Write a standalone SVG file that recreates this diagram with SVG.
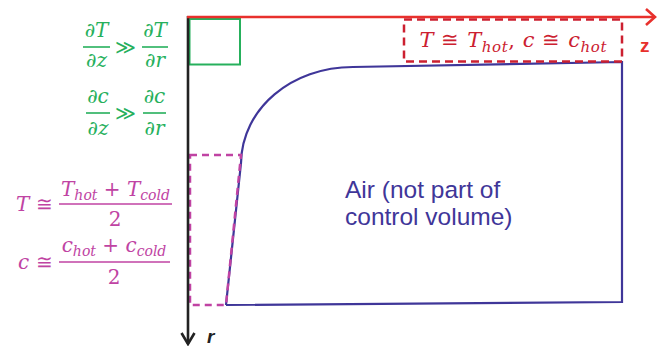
<svg xmlns="http://www.w3.org/2000/svg" width="657" height="346" viewBox="0 0 657 346">
<style>
.m{font-family:"DejaVu Serif","Liberation Serif",serif;font-style:italic;font-size:20px}
.s{font-size:14px}
.up{font-style:normal}
.g{fill:#26b05c}
.gs{stroke:#26b05c;stroke-width:1.6;fill:none}
.p{fill:#c043a3}
.ps{stroke:#c043a3;stroke-width:1.4;fill:none}
.rd{fill:#cc2030;font-size:21px}
.rd .s{font-size:15px}
.blue{fill:#3f3699;font-family:"Liberation Sans",Arial,sans-serif;font-size:24.5px}
</style>
<rect width="657" height="346" fill="#fff"/>
<g id="control-volume">
<path d="M226,305 L241,163 C242,108 292,67 353,67 L622,62 L622,302 L226,305" fill="none" stroke="#3f3699" stroke-width="2.2"/>
</g>
<g id="green-box"><rect x="189.5" y="19" width="50.5" height="45.5" fill="none" stroke="#26b05c" stroke-width="2"/></g>
<g id="red-box"><rect x="404" y="19.5" width="218" height="42" fill="none" stroke="#cc2030" stroke-width="2.5" stroke-dasharray="8,5"/></g>
<g id="magenta-box"><path d="M190,155 L241,155 L226,305 L190,305 Z" fill="none" stroke="#c043a3" stroke-width="2.5" stroke-dasharray="7,5"/></g>
<g id="axes">
<line x1="188" y1="16" x2="188" y2="344" stroke="#222" stroke-width="2.6"/>
<polyline points="181.5,333 188,344 194.5,333" fill="none" stroke="#222" stroke-width="2.6"/>
<line x1="187" y1="17" x2="654" y2="17" stroke="#e8302c" stroke-width="2.6"/>
<polyline points="646,9 655,17 646,25" fill="none" stroke="#e8302c" stroke-width="2.6"/>
<text x="640" y="52" font-family="Liberation Sans,Arial,sans-serif" font-weight="bold" font-size="19" fill="#e8302c">z</text>
<text x="207" y="343" font-family="Liberation Sans,Arial,sans-serif" font-weight="bold" font-style="italic" font-size="19" fill="#222">r</text>
</g>
<g id="air-label">
<text class="blue" x="345" y="198">Air (not part of</text>
<text class="blue" x="345" y="225">control volume)</text>
</g>
<g id="green-eq" class="m g">
<text x="96.5" y="37" text-anchor="middle">∂T</text>
<line class="gs" x1="83" y1="47" x2="110" y2="47"/>
<text x="96.5" y="67" text-anchor="middle">∂z</text>
<text x="125" y="54" text-anchor="middle" class="up">≫</text>
<text x="155" y="37" text-anchor="middle">∂T</text>
<line class="gs" x1="142" y1="47" x2="168" y2="47"/>
<text x="155" y="67" text-anchor="middle">∂r</text>
<text x="98" y="103" text-anchor="middle">∂c</text>
<line class="gs" x1="86" y1="113" x2="110" y2="113"/>
<text x="98" y="135" text-anchor="middle">∂z</text>
<text x="125" y="120" text-anchor="middle" class="up">≫</text>
<text x="154.5" y="103" text-anchor="middle">∂c</text>
<line class="gs" x1="143" y1="113" x2="166" y2="113"/>
<text x="154.5" y="135" text-anchor="middle">∂r</text>
</g>
<g id="magenta-eq" class="m p">
<text x="16" y="211">T</text>
<text x="44.5" y="211" text-anchor="middle" class="up">≅</text>
<text x="115.5" y="196" text-anchor="middle">T<tspan class="s" dy="4">hot</tspan><tspan dy="-4" class="up"> + </tspan>T<tspan class="s" dy="4">cold</tspan></text>
<line class="ps" x1="59" y1="204" x2="172" y2="204"/>
<text x="115" y="226" text-anchor="middle" class="up">2</text>
<text x="18" y="269">c</text>
<text x="44.5" y="269" text-anchor="middle" class="up">≅</text>
<text x="114" y="252" text-anchor="middle">c<tspan class="s" dy="4">hot</tspan><tspan dy="-4" class="up"> + </tspan>c<tspan class="s" dy="4">cold</tspan></text>
<line class="ps" x1="59" y1="262" x2="170" y2="262"/>
<text x="114" y="284" text-anchor="middle" class="up">2</text>
</g>
<g id="red-eq" class="m rd">
<text x="513" y="47" text-anchor="middle" textLength="187" lengthAdjust="spacing">T<tspan class="up"> ≅ </tspan>T<tspan class="s" dy="5">hot</tspan><tspan dy="-5" class="up">, </tspan>c<tspan class="up"> ≅ </tspan>c<tspan class="s" dy="5">hot</tspan></text>
</g>
</svg>
